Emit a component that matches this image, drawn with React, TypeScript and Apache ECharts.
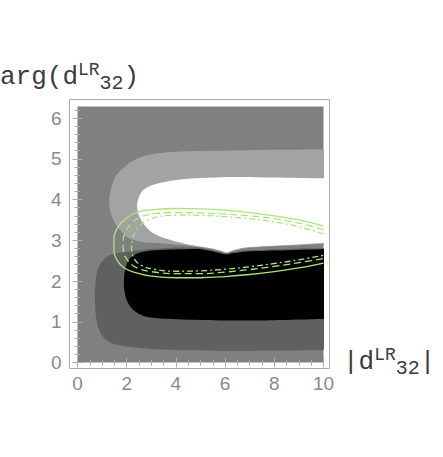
import React, { useEffect, useRef } from 'react';
import * as echarts from 'echarts';

// Axis ranges and tick labels
const X_MIN = 0;
const X_MAX = 10;
const Y_MIN = 0;
const Y_MAX = 6.2832;
const xTickValues = [0, 2, 4, 6, 8, 10];
const yTickValues = [0, 1, 2, 3, 4, 5, 6];

// Contour regions (data coordinates: |d|, arg(d))
const lightGrayBand: number[][] = [
  [10.8, 5.23], [10, 5.23], [8, 5.22], [6, 5.2], [4.7, 5.19], [3.35, 5.14], [2.54, 5.04],
  [2.0, 4.85], [1.59, 4.6], [1.39, 4.32], [1.29, 4.03], [1.32, 3.74], [1.46, 3.5],
  [1.73, 3.25], [2.1, 3.05], [2.6, 2.96], [3.3, 2.93], [4.0, 2.89], [4.4, 2.88],
  [5.0, 2.83], [5.5, 2.78], [5.85, 2.72], [6.06, 2.68], [6.3, 2.73], [6.8, 2.8],
  [7.7, 2.84], [8.8, 2.87], [10, 2.91], [10.8, 2.91],
];
const whiteRegion: number[][] = [
  [10.8, 4.52], [10, 4.52], [8, 4.54], [6.06, 4.55], [4.03, 4.48], [3.08, 4.36],
  [2.61, 4.19], [2.43, 3.91], [2.47, 3.66], [2.67, 3.42], [3.08, 3.17], [3.76, 3.01],
  [4.4, 2.91], [5.0, 2.85], [5.5, 2.8], [5.85, 2.74], [6.06, 2.7], [6.3, 2.75],
  [6.8, 2.82], [7.7, 2.86], [8.8, 2.89], [10, 2.93], [10.8, 2.93],
];
const darkGrayBand: number[][] = [
  [10.8, 2.81], [10, 2.81], [8.8, 2.79], [7.7, 2.77], [6.8, 2.75], [6.3, 2.71],
  [6.06, 2.68], [5.8, 2.71], [5.4, 2.77], [5.0, 2.81], [4.4, 2.82], [3.35, 2.8],
  [2.54, 2.76], [2.0, 2.72], [1.32, 2.64], [0.98, 2.47], [0.78, 2.19], [0.71, 1.78],
  [0.71, 1.5], [0.75, 1.12], [0.85, 0.85], [1.05, 0.62], [1.4, 0.47], [2.0, 0.39],
  [3.35, 0.32], [6, 0.29], [10, 0.3], [10.8, 0.3],
];
const blackRegion: number[][] = [
  [10.8, 2.78], [10, 2.78], [8.8, 2.76], [7.7, 2.74], [6.8, 2.72], [6.3, 2.68],
  [6.06, 2.65], [5.8, 2.68], [5.4, 2.74], [5.0, 2.78], [4.4, 2.78], [3.35, 2.76],
  [2.54, 2.7], [2.13, 2.56], [1.93, 2.27], [1.89, 1.86], [2.0, 1.53], [2.27, 1.29],
  [2.81, 1.12], [4.03, 1.06], [6.06, 1.03], [8, 1.04], [10, 1.07], [10.8, 1.07],
];

// Green contour lines
const solidContour: number[][] = [
  [10, 3.35], [9, 3.5], [8, 3.6], [7, 3.68], [6, 3.74], [5, 3.77], [4, 3.78],
  [3.2, 3.76], [2.5, 3.7], [2.0, 3.55], [1.65, 3.33], [1.48, 3.05], [1.48, 2.75],
  [1.62, 2.5], [1.9, 2.32], [2.4, 2.2], [3, 2.12], [4, 2.08], [5, 2.08], [6, 2.11],
  [7, 2.16], [8, 2.23], [9, 2.32], [10, 2.44],
];
const dashedContour: number[][] = [
  [10, 3.26], [9, 3.42], [8, 3.53], [7, 3.6], [6, 3.64], [5, 3.67], [4, 3.68],
  [3.2, 3.66], [2.6, 3.58], [2.2, 3.42], [1.95, 3.2], [1.85, 2.95], [1.88, 2.7],
  [2.05, 2.5], [2.4, 2.33], [3, 2.23], [4, 2.18], [5, 2.18], [6, 2.22], [7, 2.28],
  [8, 2.36], [9, 2.45], [10, 2.55],
];
const dashDotContour: number[][] = [
  [10, 3.16], [9, 3.33], [8, 3.45], [7, 3.53], [6, 3.58], [5, 3.61], [4, 3.62],
  [3.3, 3.58], [2.8, 3.48], [2.45, 3.3], [2.25, 3.05], [2.2, 2.8], [2.3, 2.55],
  [2.6, 2.38], [3.2, 2.28], [4, 2.24], [5, 2.25], [6, 2.29], [7, 2.35], [8, 2.43],
  [9, 2.52], [10, 2.63],
];

const regionColors = ['#a3a3a3', '#606060', '#ffffff', '#000000'];
const regions = [lightGrayBand, darkGrayBand, whiteRegion, blackRegion];

const GREEN = '#a8e67a';
const FRAME = '#ababab';
const LABEL = '#8a8a8a';
const TITLE = '#3c3c3c';

const titleRich = {
  m: { fontFamily: 'Liberation Mono', fontSize: 26, lineHeight: 32, fill: TITLE },
  sup: { fontFamily: 'Liberation Mono', fontSize: 18, lineHeight: 18, verticalAlign: 'top', fill: TITLE },
  sub: { fontFamily: 'Liberation Mono', fontSize: 20, lineHeight: 20, verticalAlign: 'bottom', fill: TITLE },
};

export default function App() {
  const ref = useRef<HTMLDivElement>(null);
  useEffect(() => {
    if (!ref.current) return;
    const chart = echarts.init(ref.current, null, { renderer: 'svg' });
    const tickCommon = {
      axisLine: { show: false },
      axisTick: { show: true, inside: true, length: 5, lineStyle: { color: FRAME, width: 1 } },
      splitLine: { show: false },
      minorSplitLine: { show: false },
    };
    const option: any = {
      animation: false,
      grid: {
        left: 77.5, top: 106.5, width: 246, height: 256,
        show: true, backgroundColor: '#808080', borderWidth: 0,
      },
      xAxis: [
        {
          type: 'value', position: 'bottom', min: X_MIN, max: X_MAX, interval: 2, offset: 6,
          ...tickCommon,
          minorTick: { show: true, splitNumber: 4, length: 3, lineStyle: { color: FRAME } },
          axisLabel: {
            color: LABEL, fontSize: 19, fontFamily: 'Liberation Sans', margin: 5,
            customValues: xTickValues,
          },
        },
        {
          type: 'value', position: 'top', min: X_MIN, max: X_MAX, interval: 2, offset: 6.5,
          ...tickCommon,
          minorTick: { show: true, splitNumber: 4, length: 3, lineStyle: { color: FRAME } },
          axisLabel: { show: false },
        },
      ],
      yAxis: [
        {
          type: 'value', position: 'left', min: Y_MIN, max: Y_MAX, interval: 1, offset: 8,
          ...tickCommon,
          axisTick: { ...tickCommon.axisTick, customValues: yTickValues },
          minorTick: { show: true, splitNumber: 5, length: 3, lineStyle: { color: FRAME } },
          axisLabel: {
            color: LABEL, fontSize: 19, fontFamily: 'Liberation Sans', margin: 8,
            customValues: yTickValues,
          },
        },
        {
          type: 'value', position: 'right', min: Y_MIN, max: Y_MAX, interval: 1, offset: 6,
          ...tickCommon,
          axisTick: { ...tickCommon.axisTick, customValues: yTickValues },
          minorTick: { show: true, splitNumber: 5, length: 3, lineStyle: { color: FRAME } },
          axisLabel: { show: false },
        },
      ],
      series: [
        {
          type: 'custom',
          coordinateSystem: 'cartesian2d',
          clip: true,
          silent: true,
          data: regions.map((_, i) => [i, 0]),
          renderItem: (params: any, api: any) => {
            const pts = regions[params.dataIndex];
            return {
              type: 'polygon',
              shape: { points: pts.map((p) => api.coord(p)), smooth: 0.3 },
              style: { fill: regionColors[params.dataIndex], stroke: null },
            };
          },
          z: 1,
        },
        {
          type: 'line', data: solidContour, smooth: 0.4, symbol: 'none', z: 3,
          lineStyle: { color: GREEN, width: 1.3, type: 'solid' },
        },
        {
          type: 'line', data: dashedContour, smooth: 0.4, symbol: 'none', z: 3,
          lineStyle: { color: GREEN, width: 1.3, type: [7, 4] },
        },
        {
          type: 'line', data: dashDotContour, smooth: 0.4, symbol: 'none', z: 3,
          lineStyle: { color: GREEN, width: 1.3, type: [6, 3, 2, 3] },
        },
      ],
      graphic: [
        {
          type: 'rect', silent: true,
          shape: { x: 69.5, y: 99.5, width: 260, height: 269 },
          style: { fill: 'none', stroke: FRAME, lineWidth: 1 },
        },
        {
          type: 'text', x: 0, y: 61, silent: true,
          style: {
            text: '{m|arg(d}{sup|LR}{sub|32}{m|)}',
            rich: titleRich, align: 'left', verticalAlign: 'top',
          },
        },
        {
          type: 'text', x: 343, y: 346, silent: true,
          style: {
            text: '{m||d}{sup|LR}{sub|32}{m||}',
            rich: titleRich, align: 'left', verticalAlign: 'top',
          },
        },
      ],
    };
    chart.setOption(option);
    return () => chart.dispose();
  }, []);
  return (
    <div
      ref={ref}
      style={{ position: 'fixed', left: 0, top: 0, width: 443, height: 457, background: '#fff' }}
    />
  );
}
